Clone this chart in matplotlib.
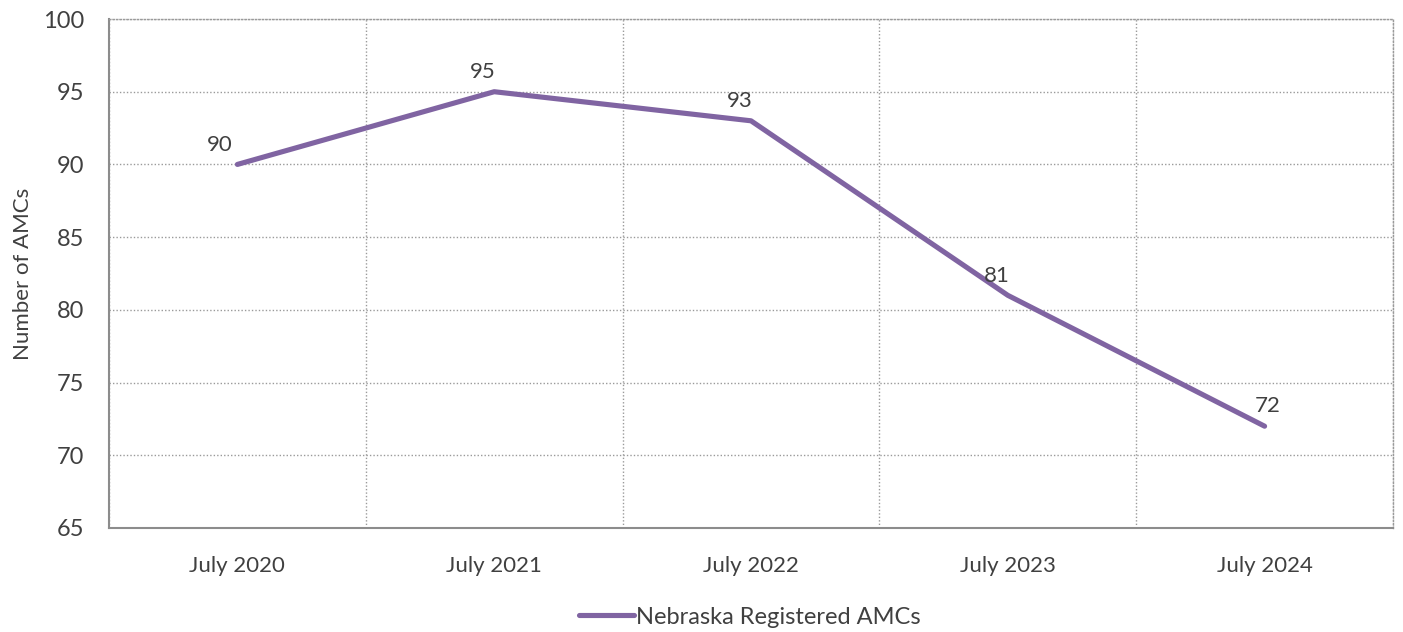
import matplotlib
matplotlib.use('Agg')
import matplotlib.pyplot as plt
import numpy as np

# data
categories = ['July 2020', 'July 2021', 'July 2022', 'July 2023', 'July 2024']
amcs = [90, 95, 93, 81, 72]
series_name = 'Nebraska Registered AMCs'

plt.rcParams['font.family'] = ['Lato', 'DejaVu Sans']
text_col = '#404040'
grid_col = '#9a9a9a'
line_col = '#8064A2'

fig = plt.figure(figsize=(14.03, 6.32), dpi=100)
ax = fig.add_axes([109 / 1403, 1 - 528 / 632, (1393 - 109) / 1403, (528 - 19) / 632])

x = np.arange(len(categories))
ax.plot(x, amcs, color=line_col, linewidth=3.7, solid_capstyle='round',
        label=series_name, zorder=3)

# data labels
offsets = [(-13, 7), (-8, 7), (-8, 7), (-8, 7), (2, 7)]
for xi, v, (dx, dy) in zip(x, amcs, offsets):
    ax.annotate(str(v), (xi, v), xytext=(dx, dy), textcoords='offset points',
                ha='center', va='bottom', fontsize=16, color=text_col)

ax.set_xlim(-0.5, len(categories) - 0.5)
ax.set_ylim(65, 100)
ax.set_yticks(np.arange(65, 101, 5))
ax.set_xticks(x)
ax.set_xticklabels(categories)
ax.set_xticks(np.arange(-0.5, len(categories) + 0.5, 1), minor=True)

ax.grid(axis='y', which='major', linestyle=(0, (1, 1.5)), color=grid_col, linewidth=1)
ax.grid(axis='x', which='minor', linestyle=(0, (1, 1.5)), color=grid_col, linewidth=1)
ax.grid(axis='x', which='major', visible=False)

ax.tick_params(axis='both', which='both', length=0, colors=text_col)
ax.tick_params(axis='x', labelsize=16, pad=20)
ax.tick_params(axis='y', labelsize=17, pad=18)

for s in ['left', 'bottom']:
    ax.spines[s].set_color('#8c8c8c')
    ax.spines[s].set_linewidth(1.5)
for s in ['top', 'right']:
    ax.spines[s].set_color(grid_col)
    ax.spines[s].set_linestyle((0, (1, 1.5)))
    ax.spines[s].set_linewidth(1)

ax.set_ylabel('Number of AMCs', fontsize=16, color=text_col, labelpad=7)

leg = fig.legend(loc='center', bbox_to_anchor=(750 / 1403, 1 - 617 / 632),
                 frameon=False, fontsize=17, handlelength=2.3, handletextpad=0.1)
for t in leg.get_texts():
    t.set_color(text_col)

fig.savefig('out.png', dpi=100)
